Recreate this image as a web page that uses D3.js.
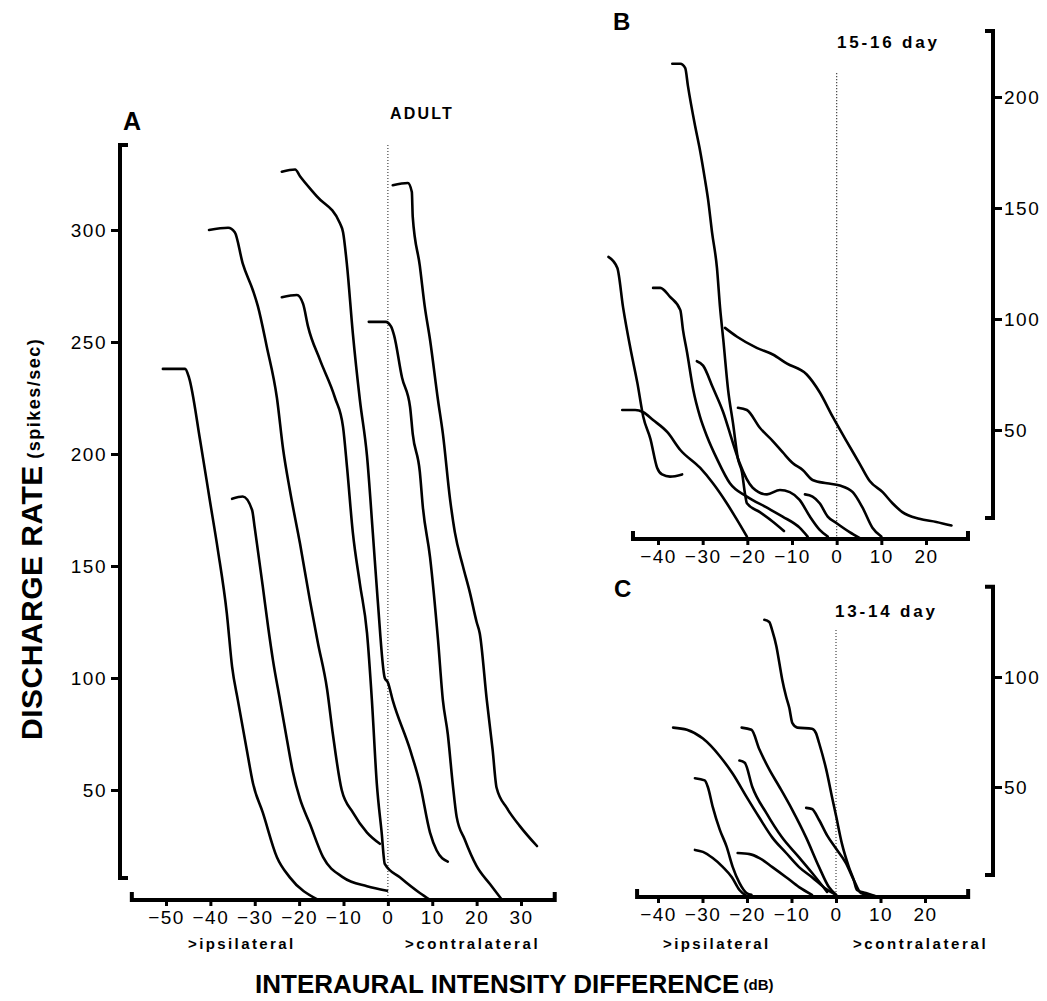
<!DOCTYPE html>
<html>
<head>
<meta charset="utf-8">
<title>Interaural intensity difference</title>
<script src="https://cdn.jsdelivr.net/npm/d3@7"></script>
<style>
body { margin: 0; background: #fff; }
svg { font-family: "Liberation Sans", Arial, sans-serif; }
.curve { fill: none; stroke: #000; stroke-width: 2.6px; stroke-linejoin: round; stroke-linecap: round; }
.ax { fill: none; stroke: #000; stroke-width: 4px; }
.tick line { stroke: #000; stroke-width: 3px; }
.tick text { font-family: "Liberation Sans", Arial, sans-serif; font-size: 19px; fill: #000; letter-spacing: 1.5px; }
.dots { stroke: #444; stroke-width: 1.2px; stroke-dasharray: 1.2 1.8; }
.lbl { font-weight: bold; fill: #000; }
</style>
</head>
<body>
<script>
// curves: [interaural intensity difference (dB), discharge rate (spikes/sec)]
var adult = [
  [[-50.7,238],[-45.7,238],[-44.8,234],[-42.3,206],[-40.1,179],[-38.3,157],[-36.3,129],[-35.1,105],[-33.8,90],[-31.8,68],[-30.4,53],[-28.2,40],[-25,20],[-22.1,11],[-15.8,1]],
  [[-40.3,300],[-36,301],[-34.5,299],[-32.7,285],[-30.4,273],[-29.3,266],[-27.3,248],[-25,225],[-23.6,202],[-22.1,184],[-19.8,160],[-17.6,135],[-15.8,116],[-13.7,95],[-12.4,75],[-10.4,50],[-7.9,40],[-4.7,31],[-1.8,26]],
  [[-35.1,180],[-32.7,181],[-30.6,175],[-30,167],[-29.3,157],[-28.2,141],[-27,123],[-25.9,108],[-24.3,90],[-22.7,72],[-21.4,58],[-19.8,46],[-17.6,35],[-14.6,20],[-10.1,11],[-4.7,7],[-0.2,5]],
  [[-23.9,270],[-20.5,271],[-19.1,267],[-18,257],[-15.3,242],[-11.9,225],[-10.1,212],[-9.2,194],[-7.9,165],[-6.3,142],[-4.7,120],[-3.6,90],[-2.5,53],[-1.4,31],[-0.7,17],[2.7,11],[7.2,4],[9.5,1]],
  [[-23.9,326],[-20.9,327],[-19.8,324],[-16,315],[-10.8,303],[-10.1,299],[-9.2,284],[-7.9,254],[-6.3,224],[-4.7,199],[-3.4,165],[-2.3,135],[-0.7,100],[0,98],[1.1,90],[5,68],[7.2,53],[9.5,31],[11,23],[13.5,18]],
  [[-4.3,259],[-0.5,259],[0.7,257],[1.4,253],[3.2,234],[5,221],[5.6,209],[7.2,192],[7.9,176],[9.5,154],[11.3,117],[12.4,90],[13.5,75],[14.6,53],[15.5,38],[17.3,28],[20,16],[23,8],[25.7,1]],
  [[1.1,320],[4.5,321],[5.4,317],[5.6,306],[7.2,284],[8.3,266],[9.5,251],[11.3,224],[12.4,209],[14,180],[15.1,165],[16.9,150],[18.5,138],[20,125],[20.7,120],[22.3,90],[23.6,68],[24.5,51],[26.8,42],[29.7,34],[33.6,25]]
];

var day1516 = [
  [[-36.8,215],[-35,215],[-33.9,213],[-33.3,205],[-31.7,187],[-30.6,176],[-29.5,163],[-28.8,154],[-27.9,139],[-26.8,123],[-26.1,105],[-25.4,91],[-24.3,68],[-23.2,53],[-22.1,37],[-21.2,31],[-20.5,21],[-20.1,17],[-17.2,13],[-14.5,9],[-11.8,4.5]],
  [[-51.1,128],[-49.1,123],[-47.8,105],[-46.2,87],[-44.6,71],[-43.3,56],[-41.7,46],[-40.2,33],[-39.1,30],[-37.3,29],[-34.6,30]],
  [[-41.1,114],[-39.5,114],[-37.3,110],[-35,104],[-34.4,95],[-33.5,85],[-32.1,68],[-30.6,56],[-29,47],[-26.8,37],[-23.9,26],[-20.1,20],[-15.6,15],[-12.1,11],[-8.3,6],[-6.5,2]],
  [[-31.3,81],[-29.9,79],[-27.7,69],[-25.4,58],[-23.2,44],[-21.7,35],[-18.8,24],[-15.6,21],[-12.7,23],[-10.5,22],[-8.3,18.5],[-6,11],[-3.8,5],[-2,2]],
  [[-25,96],[-22.3,92],[-17.9,87],[-14.3,84],[-11.2,80],[-6.7,75],[-3.8,67],[-0.9,56],[2.2,45],[5.1,35],[7.4,27],[10.3,22],[12.5,17],[14.7,13],[18.5,10],[22.3,8.6],[25.7,7]],
  [[-22.1,60],[-20.1,59],[-17.2,51],[-14.3,45],[-12.1,40],[-9.8,35],[-7.6,32],[-5.4,27.5],[-2.2,26],[0.7,25],[3.6,22],[5.8,15],[8,6],[10,2]],
  [[-48,59],[-45.1,59],[-43.3,58],[-41.1,54.5],[-37.9,49],[-35,41],[-30.6,33],[-27.7,26],[-24.6,17],[-22.3,9.5],[-20.1,2]],
  [[-7.1,21],[-5.4,20],[-3.8,17],[-2,11],[0,8],[2.9,4],[5.1,1.4]]
];

var day1314 = [
  [[-16.1,126],[-15,125],[-14.3,121],[-13.4,114],[-12.7,106],[-12.1,99],[-11.2,91],[-10.5,86],[-9.8,79],[-8.7,77],[-5.4,76.5],[-4.5,74.5],[-3.8,70],[-2.2,58],[-0.9,45.5],[0,37],[1.3,24.5],[2.9,13.6],[4,7.7],[4.7,3.2],[6.7,1.8],[8.9,0.3]],
  [[-36.6,77],[-33.5,76],[-29.9,72],[-26.1,64],[-23.2,56],[-20.1,45.5],[-17.2,36],[-14.3,27],[-11.2,20],[-8.3,13.6],[-5.4,9],[-2.2,3.6],[0,1]],
  [[-21.7,62],[-20.5,61],[-18.8,50],[-15.6,38],[-12.1,27],[-8.3,18],[-5.4,11],[-2,2.3]],
  [[-21.2,77],[-19,76],[-17.2,67],[-15,58],[-12.7,50],[-9.8,39.5],[-6.7,27],[-3.8,13.6],[-1.6,4.5],[0,1]],
  [[-6.7,40.5],[-5.4,40],[-3.8,35],[-2,28],[0,22],[2.2,15.5],[4,7.7],[5.6,1.8],[8.9,0.3]],
  [[-31.7,54],[-29.5,53],[-28.8,50],[-27.7,41],[-26.1,30.5],[-24.6,23],[-23.2,13.6],[-21.7,6.4],[-20.1,1.8],[-19,1]],
  [[-31.7,21.4],[-29.9,20.5],[-27.7,17.7],[-25.4,13.6],[-23.4,9],[-21.7,3.2],[-20.1,0.5]],
  [[-22.1,20],[-19.4,19.5],[-17.2,17.7],[-14.3,13.6],[-11.2,9],[-8.3,4.5],[-5.4,1]]
];

var xTicksA = [-50, -40, -30, -20, -10, 0, 10, 20, 30],
    yTicksA = [50, 100, 150, 200, 250, 300],
    xTicksB = [-40, -30, -20, -10, 0, 10, 20],
    yTicksB = [50, 100, 150, 200],
    xTicksC = [-40, -30, -20, -10, 0, 10, 20],
    yTicksC = [50, 100];

var W = 1047, H = 1001;
var svg = d3.select('body').append('svg')
    .attr('width', W)
    .attr('height', H);

var fmt = function(d) { return d < 0 ? '\u2212' + (-d) : String(d); };

var panels = [
  { curves: adult, xTicks: xTicksA, yTicks: yTicksA,
    x: d3.scaleLinear().domain([-50, 30]).range([166, 521]),
    y: d3.scaleLinear().domain([50, 300]).range([790, 230]),
    axisY: 900, xLo: -57.7, xHi: 37.6,
    axisX: 120, yLo: 10.7, yHi: 338, side: 'left', zeroTop: 338 },
  { curves: day1516, xTicks: xTicksB, yTicks: yTicksB,
    x: d3.scaleLinear().domain([-40, 20]).range([658, 926]),
    y: d3.scaleLinear().domain([50, 200]).range([430, 97]),
    axisY: 539, xLo: -45.6, xHi: 29.4,
    axisX: 993, yLo: 10.4, yHi: 229.7, side: 'right', zeroTop: 210.8 },
  { curves: day1314, xTicks: xTicksC, yTicks: yTicksC,
    x: d3.scaleLinear().domain([-40, 20]).range([658, 925]),
    y: d3.scaleLinear().domain([50, 100]).range([787, 677]),
    axisY: 897, xLo: -44.7, xHi: 29.7,
    axisX: 993, yLo: 10, yHi: 141, side: 'right', zeroTop: 121.4 }
];

panels.forEach(function(p) {
  var g = svg.append('g');

  g.append('line')
    .attr('class', 'dots')
    .attr('x1', p.x(0)).attr('x2', p.x(0))
    .attr('y1', p.y(p.zeroTop)).attr('y2', p.axisY);

  var line = d3.line()
    .x(function(d) { return p.x(d[0]); })
    .y(function(d) { return p.y(d[1]); })
    .curve(d3.curveMonotoneX);

  g.selectAll('path.curve')
    .data(p.curves)
  .enter().append('path')
    .attr('class', 'curve')
    .attr('d', line);

  // x axis with upturned ends
  var xa = g.append('g')
    .attr('transform', 'translate(0,' + p.axisY + ')')
    .call(d3.axisBottom(p.x).tickValues(p.xTicks).tickSize(6).tickPadding(5).tickFormat(fmt));
  xa.select('.domain').remove();
  g.append('path')
    .attr('class', 'ax')
    .attr('d', 'M' + p.x(p.xLo) + ',' + (p.axisY - 8) + 'V' + p.axisY + 'H' + p.x(p.xHi) + 'V' + (p.axisY - 8));

  // y axis as a bracket
  var dir = p.side === 'left' ? 1 : -1;
  var axis = p.side === 'left' ? d3.axisLeft(p.y) : d3.axisRight(p.y);
  var ya = g.append('g')
    .attr('transform', 'translate(' + p.axisX + ',0)')
    .call(axis.tickValues(p.yTicks).tickSize(9).tickPadding(p.side === 'left' ? 4 : 2).tickFormat(fmt));
  ya.select('.domain').remove();
  g.append('path')
    .attr('class', 'ax')
    .attr('d', 'M' + (p.axisX + 8 * dir) + ',' + p.y(p.yHi) + 'H' + p.axisX + 'V' + p.y(p.yLo) + 'H' + (p.axisX + 8 * dir));
});

// panel letters and ages
function label(x, y, txt, size, spacing) {
  return svg.append('text')
    .attr('class', 'lbl')
    .attr('x', x).attr('y', y)
    .style('font-size', size + 'px')
    .style('letter-spacing', (spacing || 0) + 'px')
    .text(txt);
}
label(123, 130, 'A', 25);
label(613, 30, 'B', 24);
label(614, 597, 'C', 24);
label(390, 119, 'ADULT', 16, 2.2);
label(837, 48, '15-16 day', 17, 2.8);
label(835, 617, '13-14 day', 17, 2.8);

label(188, 949, '>ipsilateral', 15, 2.4);
label(405, 949, '>contralateral', 15, 2.6);
label(663, 949, '>ipsilateral', 15, 2.4);
label(853, 949, '>contralateral', 15, 2.6);

// axis titles
var xt = svg.append('text')
    .attr('class', 'lbl')
    .attr('x', 255).attr('y', 993)
    .style('font-size', '26px');
xt.append('tspan').text('INTERAURAL INTENSITY DIFFERENCE');
xt.append('tspan').style('font-size', '15px').attr('dy', -3).text(' (dB)');

var yt = svg.append('text')
    .attr('class', 'lbl')
    .attr('transform', 'translate(42,740) rotate(-90)')
    .style('font-size', '30px')
    .style('letter-spacing', '0.5px');
yt.append('tspan').text('DISCHARGE RATE');
yt.append('tspan').style('font-size', '18px').style('letter-spacing', '1.5px').attr('dy', -2).text(' (spikes/sec)');
</script>
</body>
</html>
